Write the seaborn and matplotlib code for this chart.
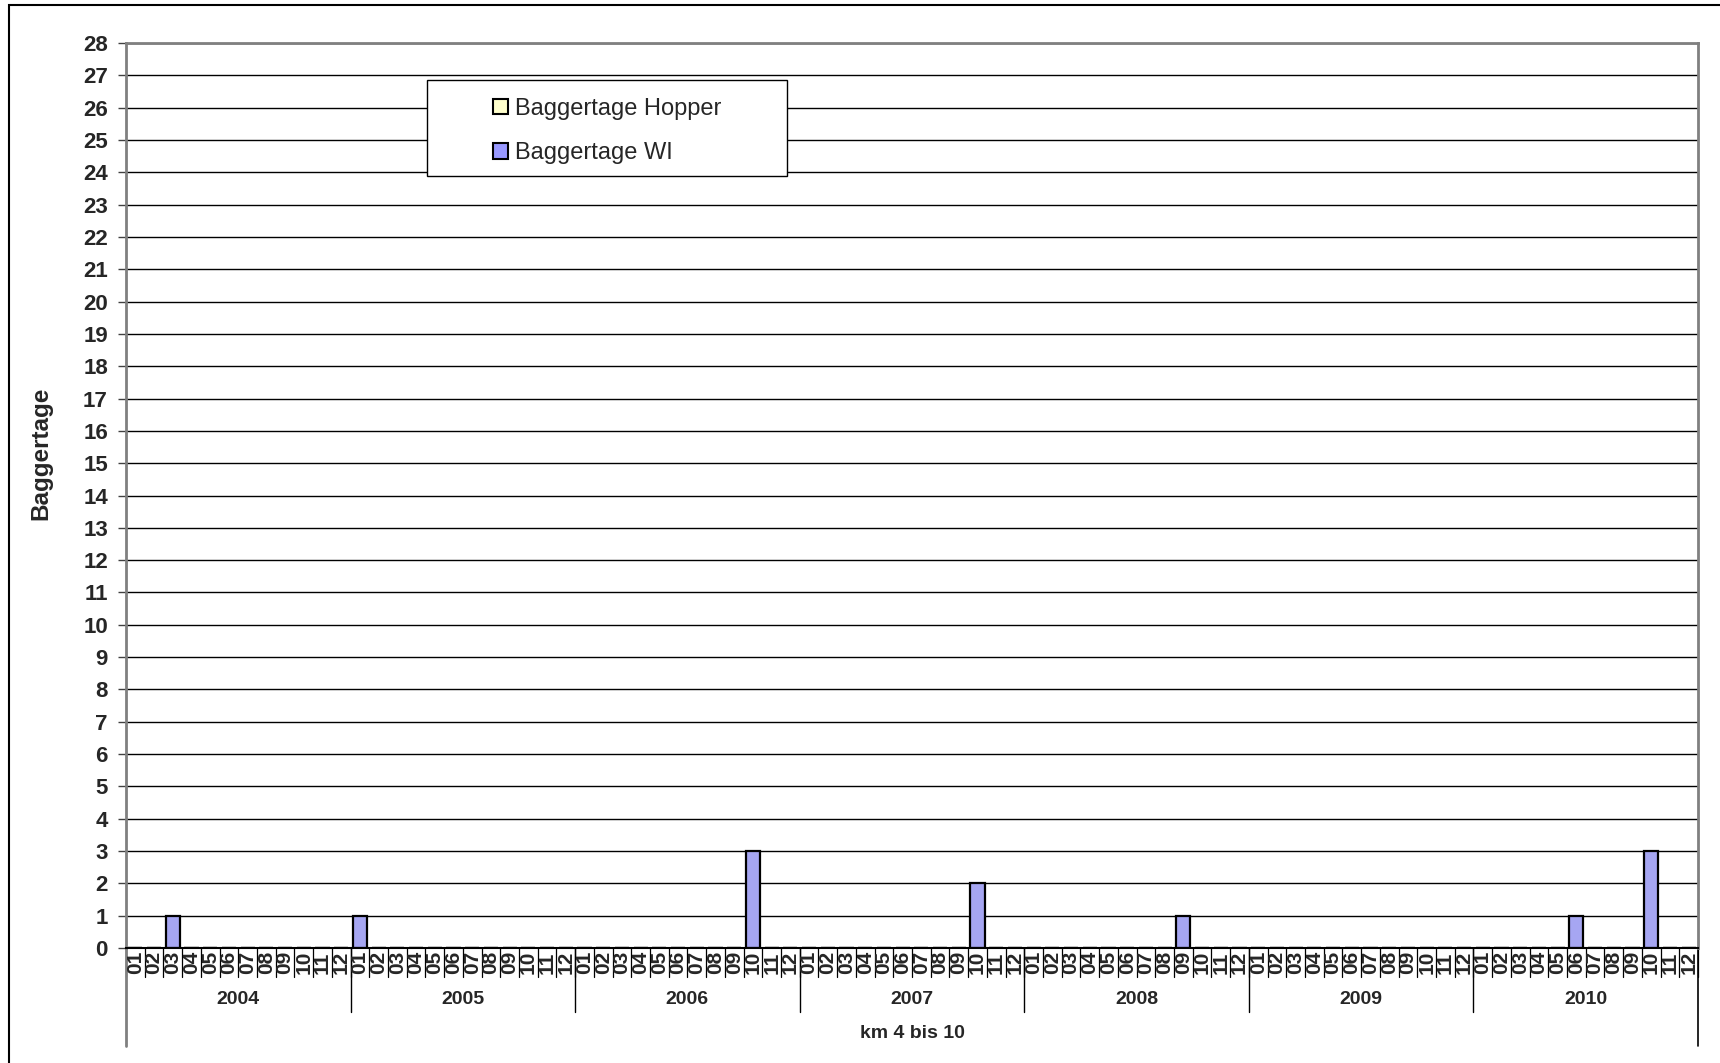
import numpy as np
import pandas as pd
import matplotlib
matplotlib.use("Agg")
import matplotlib.pyplot as plt
import matplotlib.transforms as mtransforms
from matplotlib.patches import Rectangle, Patch
import seaborn as sns

# ---- data ----
years = ["2004", "2005", "2006", "2007", "2008", "2009", "2010"]
months = ["01", "02", "03", "04", "05", "06", "07", "08", "09", "10", "11", "12"]
series_names = ["Baggertage Hopper", "Baggertage WI"]
# non-zero WI values: (year, month, days)
wi_events = [("2004", "03", 1), ("2005", "01", 1), ("2006", "10", 3),
             ("2007", "10", 2), ("2008", "09", 1), ("2010", "06", 1),
             ("2010", "10", 3)]
hopper_events = []  # no Hopper dredging days
y_ticks = list(range(0, 29))

# ---- build table ----
rows = []
for yi, y in enumerate(years):
    for mi, m in enumerate(months):
        idx = yi * 12 + mi
        wi = sum(v for (yy, mm, v) in wi_events if yy == y and mm == m)
        ho = sum(v for (yy, mm, v) in hopper_events if yy == y and mm == m)
        rows.append({"idx": idx, "series": series_names[0], "value": ho})
        rows.append({"idx": idx, "series": series_names[1], "value": wi})
df = pd.DataFrame(rows)
n = len(years) * len(months)

sns.set_style("white")
plt.rcParams["font.family"] = ["Liberation Sans", "DejaVu Sans"]

W, H = 1720, 1063
fig = plt.figure(figsize=(W / 100, H / 100), dpi=100)
ax = fig.add_axes([126 / W, 1 - 948 / H, 1572 / W, 905 / H])

colors = {"Baggertage Hopper": "#FFFFCC", "Baggertage WI": "#9999FF"}
sns.barplot(data=df, x="idx", y="value", hue="series", hue_order=series_names,
            order=list(range(n)), dodge=False, palette=colors,
            edgecolor="black", linewidth=1.6, width=0.75, ax=ax, legend=False)

ax.set_xlim(-0.5, n - 0.5)
ax.set_ylim(0, 28)
ax.set_yticks(y_ticks)
ax.set_yticklabels([str(t) for t in y_ticks], fontsize=16, fontweight="bold")
ax.yaxis.grid(True, color="black", linewidth=1.0)
ax.set_axisbelow(True)
ax.tick_params(axis="y", direction="out", length=6, width=1, color="#404040", pad=7, left=True)
ax.set_xticks([])
ax.set_xlabel("")
ax.set_ylabel("")
for s in ["left", "top", "right"]:
    ax.spines[s].set_color("#808080")
    ax.spines[s].set_linewidth(2)
ax.spines["bottom"].set_color("black")
ax.spines["bottom"].set_linewidth(1.5)

# ---- multi-level x axis ----
trans = mtransforms.blended_transform_factory(ax.transData, ax.transAxes)
hpx = 905.0
for b in np.arange(-0.5, n, 1.0):
    ax.plot([b, b], [0, -29 / hpx], transform=trans, color="black", lw=0.9, clip_on=False)
for k in range(1, len(years)):
    b = 12 * k - 0.5
    ax.plot([b, b], [0, -64 / hpx], transform=trans, color="black", lw=1.0, clip_on=False)
ax.plot([-0.5, -0.5], [0, -98 / hpx], transform=trans, color="#808080", lw=2, clip_on=False)
ax.plot([n - 0.5, n - 0.5], [0, -98 / hpx], transform=trans, color="black", lw=1.2, clip_on=False)

for yi, y in enumerate(years):
    for mi, m in enumerate(months):
        ax.text(yi * 12 + mi, -14.5 / hpx, m, transform=trans, rotation=90,
                ha="center", va="center", fontsize=15, fontweight="bold")
    ax.text(yi * 12 + 5.5, -51 / hpx, y, transform=trans, ha="center", va="center",
            fontsize=14, fontweight="bold")
ax.text((n - 1) / 2, -85 / hpx, "km 4 bis 10", transform=trans, ha="center", va="center",
        fontsize=14, fontweight="bold")

fig.text(41 / W, 1 - 453 / H, "Baggertage", rotation=90, ha="center", va="center",
         fontsize=17.5, fontweight="bold")

# ---- legend ----
box = Rectangle((427 / W, 1 - 176 / H), 360 / W, 96 / H, transform=fig.transFigure,
                facecolor="white", edgecolor="black", lw=1.0, zorder=5)
fig.add_artist(box)
handles = [Patch(facecolor=colors[s], edgecolor="black", linewidth=1.5) for s in series_names]
leg = fig.legend(handles, series_names, loc="center", bbox_to_anchor=(607 / W, 1 - 131 / H),
                 frameon=False, fontsize=17, handlelength=0.62, handleheight=0.62,
                 handletextpad=0.3, labelspacing=0.95)
leg.set_zorder(6)

# ---- outer frame ----
frame = Rectangle((8.5 / W, -0.02), 1.05, 1 - 5 / H + 0.02, transform=fig.transFigure,
                  facecolor="none", edgecolor="black", lw=1.5, clip_on=False)
fig.add_artist(frame)

fig.savefig("out.png", dpi=100, facecolor="white")
